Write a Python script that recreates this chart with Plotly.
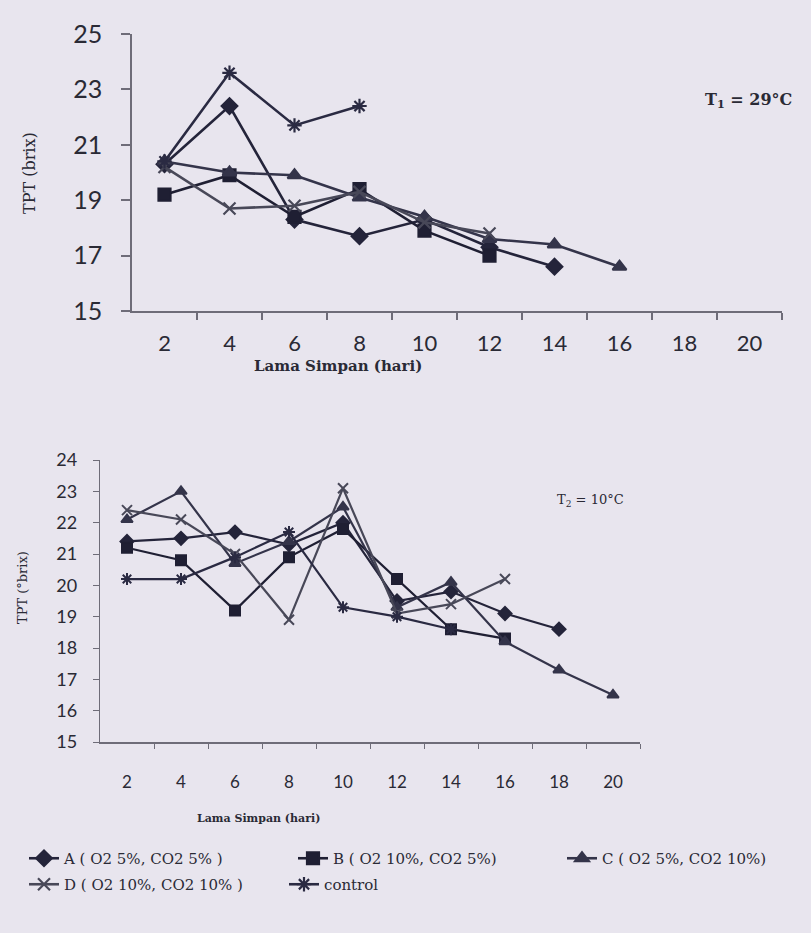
import plotly.graph_objects as go

W, H = 811, 933

# ---------------- data ----------------
days = [2, 4, 6, 8, 10, 12, 14, 16, 18, 20]
day_labels = ["2", "4", "6", "8", "10", "12", "14", "16", "18", "20"]

series_names = ["A ( O2 5%, CO2 5% )", "B ( O2 10%, CO2 5%)", "C ( O2 5%, CO2 10%)",
                "D ( O2 10%, CO2 10% )", "control"]

# T1 = 29 C  (TPT, brix)
t1_A = [20.3, 22.4, 18.3, 17.7, 18.3, 17.3, 16.6]
t1_B = [19.2, 19.9, 18.4, 19.4, 17.9, 17.0]
t1_C = [20.4, 20.0, 19.9, 19.1, 18.4, 17.6, 17.4, 16.6]
t1_D = [20.2, 18.7, 18.8, 19.3, 18.2, 17.8]
t1_K = [20.4, 23.6, 21.7, 22.4]

# T2 = 10 C  (TPT, brix)
t2_A = [21.4, 21.5, 21.7, 21.3, 22.0, 19.5, 19.8, 19.1, 18.6]
t2_B = [21.2, 20.8, 19.2, 20.9, 21.8, 20.2, 18.6, 18.3]
t2_C = [22.1, 23.0, 20.7, 21.4, 22.5, 19.3, 20.1, 18.2, 17.3, 16.5]
t2_D = [22.4, 22.1, 21.0, 18.9, 23.1, 19.1, 19.4, 20.2]
t2_K = [20.2, 20.2, 20.9, 21.7, 19.3, 19.0, 18.6]

# ---------------- styles ----------------
symbols = ["diamond", "square", "triangle-up", "x-thin-open", "asterisk-open"]
colors = ["#24243a", "#1f1f33", "#34344a", "#484858", "#2a2a42"]
BG = "#e8e5ee"
AX = "#6e6c78"
TXT = "#2a2a35"


def px(x):
    return x / W


def py(y):
    return 1 - y / H


fig = go.Figure()

t1 = [t1_A, t1_B, t1_C, t1_D, t1_K]
t2 = [t2_A, t2_B, t2_C, t2_D, t2_K]
for i, vals in enumerate(t1):
    fig.add_trace(go.Scatter(
        x=days[:len(vals)], y=vals, xaxis="x", yaxis="y",
        mode="lines+markers", name=series_names[i],
        legend="legend" if i < 3 else "legend2",
        line=dict(color=colors[i], width=2.6),
        marker=dict(symbol=symbols[i], size=12, color=colors[i],
                    line=dict(color=colors[i], width=2.2)),
    ))
for i, vals in enumerate(t2):
    fig.add_trace(go.Scatter(
        x=days[:len(vals)], y=vals, xaxis="x2", yaxis="y2",
        mode="lines+markers", name=series_names[i], showlegend=False,
        line=dict(color=colors[i], width=2.2),
        marker=dict(symbol=symbols[i], size=10, color=colors[i],
                    line=dict(color=colors[i], width=2)),
    ))

odd = [3, 5, 7, 9, 11, 13, 15, 17, 19, 21]

common_x = dict(range=[1, 21], tickmode="array", tickvals=days, ticktext=day_labels,
                ticks="", showline=True, linecolor=AX, linewidth=1.6,
                showgrid=False, zeroline=False,
                tickfont=dict(family="Lato", size=22, color=TXT))

fig.update_layout(
    width=W, height=H,
    margin=dict(l=0, r=0, t=0, b=0, autoexpand=False),
    paper_bgcolor=BG, plot_bgcolor=BG,
    xaxis=dict(common_x, domain=[px(132), px(782)], anchor="y",
               ticklabelstandoff=12,
               minor=dict(tickvals=odd, ticks="outside", ticklen=7, tickcolor=AX, tickwidth=1.5)),
    yaxis=dict(domain=[py(311), py(34)], anchor="x", range=[15, 25],
               tickmode="array", tickvals=[15, 17, 19, 21, 23, 25],
               ticks="outside", ticklen=9, tickcolor=AX, tickwidth=1.5,
               showline=True, linecolor=AX, linewidth=1.6, showgrid=False, zeroline=False,
               ticklabelstandoff=14,
               tickfont=dict(family="Lato", size=25, color=TXT)),
    xaxis2=dict(common_x, domain=[px(100), px(640)], anchor="y2",
                ticklabelstandoff=24,
                tickfont=dict(family="Lato", size=17, color=TXT),
                minor=dict(tickvals=odd, ticks="outside", ticklen=5, tickcolor=AX, tickwidth=1.3)),
    yaxis2=dict(domain=[py(742), py(460)], anchor="x2", range=[15, 24],
                tickmode="array", tickvals=list(range(15, 25)),
                ticks="outside", ticklen=6, tickcolor=AX, tickwidth=1.3,
                showline=True, linecolor=AX, linewidth=1.4, showgrid=False, zeroline=False,
                ticklabelstandoff=12,
                tickfont=dict(family="Lato", size=18, color=TXT)),
    legend=dict(orientation="h", x=px(24), y=py(842), xanchor="left", yanchor="top",
                entrywidth=224, entrywidthmode="pixels", bgcolor="rgba(0,0,0,0)",
                font=dict(family="DejaVu Serif", size=15, color=TXT), itemwidth=30),
    legend2=dict(orientation="h", x=px(24), y=py(868), xanchor="left", yanchor="top",
                 entrywidth=215, entrywidthmode="pixels", bgcolor="rgba(0,0,0,0)",
                 font=dict(family="DejaVu Serif", size=15, color=TXT), itemwidth=30),
    showlegend=True,
)

ann = [
    dict(text="TPT (brix)", x=px(30), y=py(173), textangle=-90,
         font=dict(family="DejaVu Serif", size=16, color=TXT)),
    dict(text="<b>Lama Simpan (hari)</b>", x=px(338), y=py(366),
         font=dict(family="DejaVu Serif", size=15, color=TXT)),
    dict(text="<b>T<sub>1</sub> = 29°C</b>", x=px(748), y=py(100),
         font=dict(family="DejaVu Serif", size=16, color=TXT)),
    dict(text="TPT (°brix)", x=px(22), y=py(588), textangle=-90,
         font=dict(family="DejaVu Serif", size=13, color=TXT)),
    dict(text="T<sub>2</sub> = 10°C", x=px(590), y=py(500),
         font=dict(family="DejaVu Serif", size=13, color=TXT)),
    dict(text="<b>Lama Simpan (hari)</b>", x=px(258), y=py(818),
         font=dict(family="DejaVu Serif", size=11, color=TXT)),
]
for a in ann:
    a.update(xref="paper", yref="paper", showarrow=False, xanchor="center", yanchor="middle")
fig.update_layout(annotations=ann)

fig.write_html("out.html", config={"displayModeBar": False},
               post_script="document.body.style.margin='0';document.body.style.background='%s';" % BG)
